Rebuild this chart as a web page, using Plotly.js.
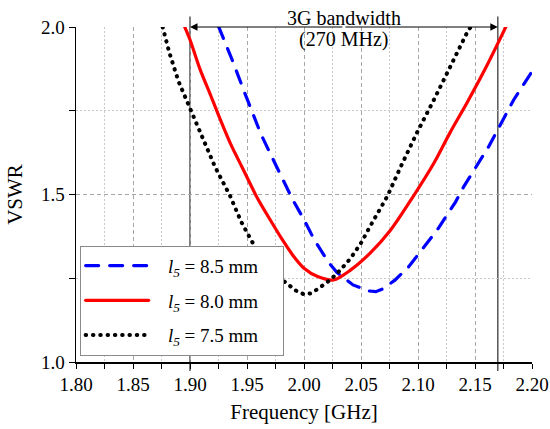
<!DOCTYPE html>
<html>
<head>
<meta charset="utf-8">
<script src="https://cdn.plot.ly/plotly-3.0.1.min.js"></script>
<style>
html,body{margin:0;padding:0;background:#fff;}
#chart{width:550px;height:429px;}
.scatterlayer path.js-line, .legend path.js-line{stroke-linecap:round;}
</style>
</head>
<body>
<div id="chart"></div>
<script>
// ---- data ----
const seriesNames = ['<i>l</i><sub><i>5</i></sub> = 8.5 mm', '<i>l</i><sub><i>5</i></sub> = 8.0 mm', '<i>l</i><sub><i>5</i></sub> = 7.5 mm'];

const freq85 = [1.925, 1.931, 1.937, 1.947, 1.957, 1.962, 1.969, 1.981, 1.990, 2.000, 2.009, 2.021, 2.029, 2.043, 2.057, 2.063, 2.069, 2.080, 2.092, 2.100, 2.109, 2.117, 2.133, 2.140, 2.162, 2.170, 2.184, 2.200];
const vswr85 = [2.002, 1.952, 1.902, 1.812, 1.722, 1.682, 1.632, 1.545, 1.485, 1.425, 1.365, 1.300, 1.267, 1.230, 1.212, 1.210, 1.218, 1.245, 1.285, 1.320, 1.360, 1.395, 1.478, 1.523, 1.643, 1.693, 1.783, 1.867];

const freq80 = [1.8945, 1.900, 1.909, 1.918, 1.925, 1.9355, 1.9456, 1.9587, 1.972, 1.981, 1.991, 2.000, 2.012, 2.026, 2.041, 2.058, 2.076, 2.095, 2.114, 2.128, 2.143, 2.160, 2.178];
const vswr80 = [2.007, 1.962, 1.872, 1.797, 1.737, 1.652, 1.582, 1.492, 1.415, 1.365, 1.315, 1.280, 1.255, 1.245, 1.275, 1.325, 1.394, 1.490, 1.594, 1.684, 1.774, 1.882, 2.007];

const freq75 = [1.876, 1.882, 1.890, 1.900, 1.911, 1.922, 1.935, 1.945, 1.957, 1.970, 1.981, 1.993, 2.000, 2.006, 2.013, 2.023, 2.032, 2.041, 2.050, 2.058, 2.073, 2.085, 2.099, 2.114, 2.128, 2.143, 2.148];
const vswr75 = [2.000, 1.922, 1.837, 1.757, 1.672, 1.582, 1.497, 1.418, 1.343, 1.288, 1.245, 1.213, 1.202, 1.205, 1.220, 1.245, 1.275, 1.310, 1.355, 1.405, 1.494, 1.584, 1.684, 1.783, 1.882, 1.983, 2.010];

const bandEdges = [1.90, 2.17];
const bandTitle = '3G bandwidth';
const bandWidthLabel = '(270 MHz)';
const xTitle = 'Frequency [GHz]';
const yTitle = 'VSWR';

// ---- chart ----
const FONT = '"Liberation Serif", "Times New Roman", serif';
const bandMid = (bandEdges[0] + bandEdges[1]) / 2;
const padL = '\u00a0\u00a0\u00a0', padR = '\u00a0\u00a0\u00a0\u00a0';

const traces = [
  {x: freq85, y: vswr85, name: padL + seriesNames[0] + padR, legendgroup: 'a', mode: 'lines',
   line: {color: '#0000ff', width: 3.2, dash: '13px,11px'}},
  {x: freq80, y: vswr80, name: padL + seriesNames[1] + padR, legendgroup: 'b', mode: 'lines',
   line: {color: '#ff0000', width: 3.2, shape: 'spline', smoothing: 0.8}},
  {x: freq75, y: vswr75, name: padL + seriesNames[2] + padR, legendgroup: 'c', mode: 'lines',
   line: {color: '#000000', width: 4, dash: '0.5px,6.8px'}}
];

const gridMajor = '#a8a8a8';
const gridMinor = '#c8c8c8';

const layout = {
  width: 550, height: 429,
  margin: {l: 76, r: 18, t: 27, b: 67},
  paper_bgcolor: '#fff', plot_bgcolor: '#fff',
  font: {family: FONT, color: '#000', size: 19},
  showlegend: true,
  legend: {
    x: 0.008, y: 0.347, xanchor: 'left', yanchor: 'top',
    bgcolor: '#fff', bordercolor: '#8a8a8a', borderwidth: 1,
    font: {family: FONT, size: 19, color: '#000'},
    itemwidth: 63, tracegroupgap: 7, traceorder: 'grouped'
  },
  xaxis: {
    range: [1.8, 2.2], tick0: 1.8, dtick: 0.05, tickformat: '.2f',
    ticks: 'outside', ticklen: 5, tickwidth: 1, tickcolor: '#000',
    showline: true, linecolor: '#000', linewidth: 1.5, zeroline: false,
    showgrid: true, gridcolor: gridMajor, griddash: '4px,3px', gridwidth: 1,
    minor: {dtick: 0.025, tick0: 1.8, ticks: 'outside', ticklen: 5, tickcolor: '#000',
            showgrid: true, gridcolor: gridMinor, griddash: '2px,2px', gridwidth: 1},
    tickfont: {family: FONT, size: 19, color: '#000'},
    title: {text: xTitle, font: {family: FONT, size: 21, color: '#000'}, standoff: 10}
  },
  yaxis: {
    range: [1.0, 2.0], tick0: 1.0, dtick: 0.5, tickformat: '.1f',
    ticks: 'outside', ticklen: 6, tickwidth: 1, tickcolor: '#000',
    showline: true, linecolor: '#000', linewidth: 1.5, zeroline: false,
    showgrid: true, gridcolor: gridMajor, griddash: '4px,3px', gridwidth: 1,
    minor: {dtick: 0.25, tick0: 1.0, ticks: 'outside', ticklen: 6, tickcolor: '#000',
            showgrid: true, gridcolor: gridMinor, griddash: '2px,2px', gridwidth: 1},
    tickfont: {family: FONT, size: 19, color: '#000'},
    title: {text: yTitle, font: {family: FONT, size: 21, color: '#000'}, standoff: 12}
  },
  shapes: bandEdges.map(v => ({
    type: 'line', xref: 'x', yref: 'paper', x0: v, x1: v, y0: -0.027, y1: 1.031,
    line: {color: '#555', width: 1.5}, layer: 'between'
  })),
  annotations: [
    ...bandEdges.map(v => ({
      x: v, y: 2.0, xref: 'x', yref: 'y', ax: bandMid, ay: 2.0, axref: 'x', ayref: 'y',
      showarrow: true, arrowhead: 2, arrowsize: 1.5, arrowwidth: 1, arrowcolor: '#000', text: ''
    })),
    {x: bandMid, y: 1.028, xref: 'x', yref: 'paper', text: bandTitle, showarrow: false,
     xanchor: 'center', yanchor: 'middle', font: {family: FONT, size: 20, color: '#000'}},
    {x: bandMid, y: 0.962, xref: 'x', yref: 'paper', text: bandWidthLabel, showarrow: false,
     xanchor: 'center', yanchor: 'middle', font: {family: FONT, size: 20, color: '#000'}}
  ]
};

Plotly.newPlot('chart', traces, layout, {displayModeBar: false, staticPlot: true});
</script>
</body>
</html>
